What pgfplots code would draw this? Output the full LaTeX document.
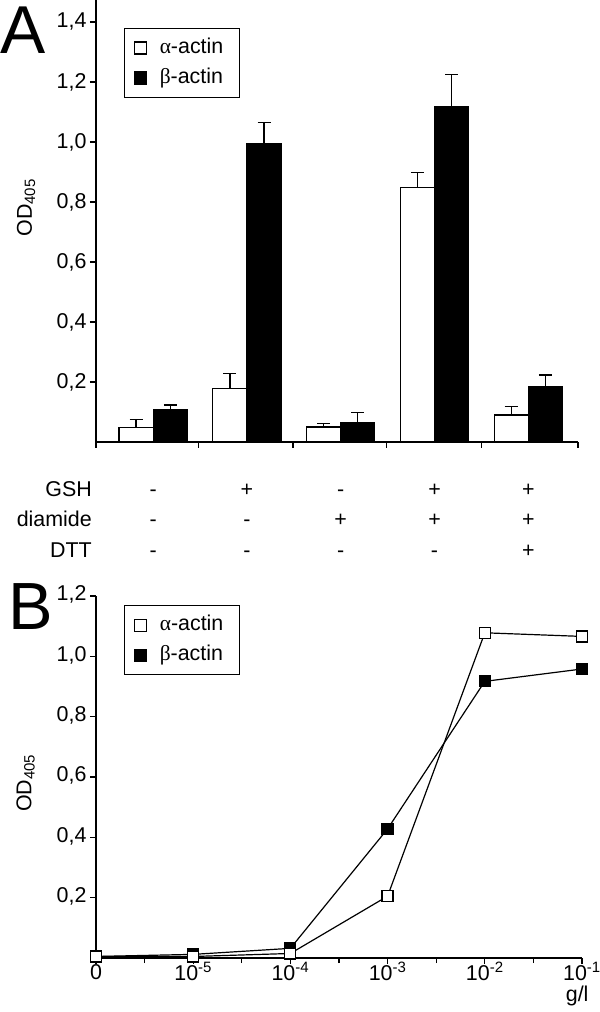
\documentclass[border=0pt]{standalone}
\usepackage{pgfplots}
\pgfplotsset{compat=1.18}
\usepackage{fontspec}
\setmainfont{Liberation Sans}
\newfontfamily\greek{Liberation Serif}
\newcommand{\fs}{\fontsize{21.5}{25}\selectfont}
\pgfplotsset{
  mylegend/.style={legend style={draw=black, line width=1.2bp, font=\fs,
    inner xsep=9bp, inner ysep=9.5bp, row sep=10bp, column sep=13bp,
    nodes={inner sep=0pt, text height=15bp, text depth=5bp},
    cells={anchor=west}}, legend cell align=left},
}
\begin{document}
\begin{tikzpicture}
\useasboundingbox (0bp,0bp) rectangle (600bp,1012bp);
\node[anchor=base west, inner sep=0pt, text height=49bp, text depth=0pt, font=\fontsize{68}{68}\selectfont] at (0bp,958bp) {A};
\node[anchor=base west, inner sep=0pt, text height=48bp, text depth=0pt, font=\fontsize{67}{67}\selectfont] at (8bp,382bp) {B};

% ---------------- Panel A ----------------
\begin{axis}[
  at={(96bp,570bp)}, anchor=south west,
  scale only axis, width=482bp, height=442bp,
  xmin=-0.61, xmax=4.53, ymin=0, ymax=1.4733,
  axis x line=bottom, axis y line=left,
  axis line style={-, line width=1.2bp},
  tick align=outside, major tick length=6bp,
  tick style={line width=1.2bp, black},
  xtick={-0.61,0.48,1.49,2.49,3.5,4.53},
  xticklabels={},
  ytick={0.2,0.4,0.6,0.8,1.0,1.2,1.4},
  yticklabels={{0,2},{0,4},{0,6},{0,8},{1,0},{1,2},{1,4}},
  tick label style={font=\fs},
  extra x ticks={0,1,2,3,4},
  extra x tick labels={{\strut-\\\strut-\\\strut-},{\strut+\\\strut-\\\strut-},{\strut-\\\strut+\\\strut-},{\strut+\\\strut+\\\strut-},{\strut+\\\strut+\\\strut+}},
  extra x tick style={major tick length=0pt, xticklabel style={align=center, inner sep=0pt, yshift=-33bp, font=\fontsize{21.5}{30.5}\selectfont}},
  ylabel={OD\textsubscript{405}},
  ylabel style={at={(axis description cs:-0.145,0.53)}, anchor=center, font=\fs},
  mylegend,
  legend style={at={(axis description cs:0.058,0.9367)}, anchor=north west},
  ybar, bar width=0.364,
  clip=false,
]
\addplot[fill=white, draw=black, line width=1.2bp, bar shift=-0.182,
  legend image code/.code={\draw[fill=white, draw=black, line width=1.2bp] (0bp,-6bp) rectangle (12bp,6bp);},
  error bars/.cd, y dir=plus, y explicit,
  error bar style={line width=1.3bp, black},
  error mark options={black, line width=1.3bp, mark size=6.5bp, rotate=90}]
coordinates {
  (0,0.048) +- (0,0.028)
  (1,0.179) +- (0,0.050)
  (2,0.050) +- (0,0.012)
  (3,0.849) +- (0,0.049)
  (4,0.090) +- (0,0.028)
};
\addlegendentry{{\greek α}-actin\kern7bp\rule{0pt}{0pt}}
\addplot[fill=black, draw=black, line width=1.2bp, bar shift=0.182,
  legend image code/.code={\draw[fill=black, draw=black, line width=1.2bp] (0bp,-6bp) rectangle (12bp,6bp);},
  error bars/.cd, y dir=plus, y explicit,
  error bar style={line width=1.3bp, black},
  error mark options={black, line width=1.3bp, mark size=6.5bp, rotate=90}]
coordinates {
  (0,0.109) +- (0,0.014)
  (1,0.996) +- (0,0.068)
  (2,0.064) +- (0,0.035)
  (3,1.118) +- (0,0.106)
  (4,0.183) +- (0,0.040)
};
\addlegendentry{{\greek β}-actin\kern7bp\rule{0pt}{0pt}}
\node[anchor=north east, inner sep=0pt, align=right, font=\fontsize{21.5}{30.5}\selectfont]
  at (rel axis cs:0,0) [xshift=-4bp, yshift=-33bp] {\strut GSH\\\strut diamide\\\strut DTT};
\end{axis}

% ---------------- Panel B ----------------
\begin{axis}[
  at={(96bp,54bp)}, anchor=south west,
  scale only axis, width=486bp, height=362bp,
  xmin=0, xmax=5, ymin=0, ymax=1.2,
  axis x line=bottom, axis y line=left,
  axis line style={-, line width=1.2bp},
  tick align=outside, major tick length=6bp, minor tick length=5bp,
  tick style={line width=1.2bp, black},
  xtick={0,1,2,3,4,5},
  xticklabels={0,10\textsuperscript{-5},10\textsuperscript{-4},10\textsuperscript{-3},10\textsuperscript{-2},10\textsuperscript{-1}},
  minor xtick={0.5,1.5,2.5,3.5,4.5},
  ytick={0.2,0.4,0.6,0.8,1.0,1.2},
  yticklabels={{0,2},{0,4},{0,6},{0,8},{1,0},{1,2}},
  tick label style={font=\fs},
  typeset ticklabels with strut,
  xticklabel style={yshift=5bp},
  xlabel={g/l},
  xlabel style={at={(rel axis cs:1,0)}, anchor=base east, xshift=10bp, yshift=-43bp, font=\fs},
  ylabel={OD\textsubscript{405}},
  ylabel style={at={(axis description cs:-0.145,0.483)}, anchor=center, font=\fs},
  mylegend,
  legend style={at={(axis description cs:0.0576,0.975)}, anchor=north west},
  reverse legend,
  clip=false,
]
\addplot[black, line width=1.2bp, mark=square*, mark size=5.5bp, mark options={fill=black, solid},
  legend image code/.code={\draw[fill=black, draw=black, line width=1.2bp] (0bp,-6bp) rectangle (12bp,6bp);}]
coordinates {(0,0.005) (1,0.012) (2,0.032) (3,0.428) (4,0.917) (5,0.958)};
\addlegendentry{{\greek β}-actin\kern7bp\rule{0pt}{0pt}}
\addplot[black, line width=1.2bp, mark=square*, mark size=5.5bp, mark options={fill=white, solid},
  legend image code/.code={\draw[fill=white, draw=black, line width=1.2bp] (0bp,-6bp) rectangle (12bp,6bp);}]
coordinates {(0,0.005) (1,0.005) (2,0.015) (3,0.205) (4,1.078) (5,1.066)};
\addlegendentry{{\greek α}-actin\kern7bp\rule{0pt}{0pt}}
\end{axis}
\end{tikzpicture}
\end{document}
